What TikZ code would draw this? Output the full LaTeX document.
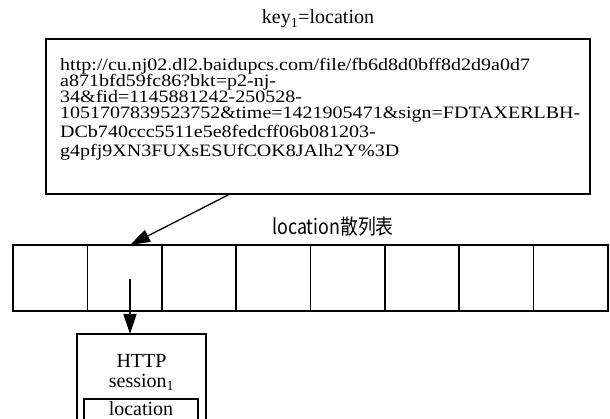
\documentclass[tikz,border=0pt]{standalone}
\usepackage{fontspec}
\usepackage{graphicx}
\setmainfont{Liberation Serif}
\newfontfamily\cjk{Noto Sans CJK SC}
\usetikzlibrary{arrows.meta,calc}
\newcommand{\urltext}[1]{\scalebox{1.15}[1]{#1}}
\tikzset{
  frame/.style={draw=black,line width=1.6pt},
  cellbox/.style={draw=black,line width=1.6pt,minimum width=74.375pt,minimum height=66pt,inner sep=0pt,outer sep=0pt,anchor=north west},
  link/.style={line width=1.3pt,-{Triangle[length=20pt,width=13pt]}},
  urlline/.style={inner sep=0pt,anchor=base west,font=\fontsize{17.4}{17.4}\selectfont},
  label/.style={font=\fontsize{20}{20}\selectfont,inner sep=0pt,anchor=base},
}
\begin{document}
\begin{tikzpicture}[x=1pt,y=-1pt]
\useasboundingbox (0,0) rectangle (610,419);
\fill[white] (0,0) rectangle (610,419);

% key label and the URL box
\node[label] (key) at (318,24) {key\textsubscript{1}=location};
\draw[frame] (46,39) rectangle (590,194);
\node[urlline] (u1) at (60,70.5)  {\urltext{http://cu.nj02.dl2.baidupcs.com/file/fb6d8d0bff8d2d9a0d7}};
\node[urlline] (u2) at (60,86.5)  {\urltext{a871bfd59fc86?bkt=p2-nj-}};
\node[urlline] (u3) at (60,102.5) {\urltext{34\&fid=1145881242-250528-}};
\node[urlline] (u4) at (60,118.5) {\urltext{1051707839523752\&time=1421905471\&sign=FDTAXERLBH-}};
\node[urlline] (u5) at (60,137.5) {\urltext{DCb740ccc5511e5e8fedcff06b081203-}};
\node[urlline] (u6) at (60,156.5) {\urltext{g4pfj9XN3FUXsESUfCOK8JAlh2Y\%3D}};
\coordinate (urlfoot) at (230,194);

% hash table of locations
\node[font=\fontsize{21}{21}\selectfont,inner sep=0pt] (title) at (333,227) {\scalebox{0.85}[1]{\cjk location散列表}};
\foreach \i in {1,...,8}
  \node[cellbox] (c\i) at ({13+(\i-1)*74.375},245) {};

% session box below the table
\draw[frame] (77,419) |- (206,334) -- (206,419);
\coordinate (http) at (141.5,334);
\node[label] (httplbl) at (141.5,367.5) {HTTP};
\node[label] (sess) at (141.5,387.5) {session\textsubscript{1}};
\draw[frame] (84,419) |- (198,399) -- (198,419);
\node[label] (loc) at (141,415.5) {location};

% connectors
\draw[link] (urlfoot) -- ($(c2.north)+(5.5,0)$);
\coordinate (slot) at (130,279);
\draw[link] (slot) -- (slot |- http);
\end{tikzpicture}
\end{document}
